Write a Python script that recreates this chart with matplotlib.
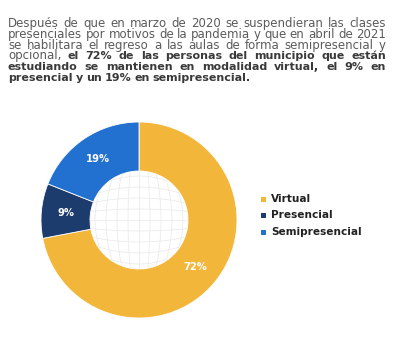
import numpy as np
import matplotlib
matplotlib.use("Agg")
import matplotlib.pyplot as plt
from matplotlib.patches import Circle

# ---- data ----
categories = ["Virtual", "Presencial", "Semipresencial"]
values = [72, 9, 19]
colors = ["#F2B63A", "#1D3C6E", "#2270D0"]

para_lines = [
    [("Después de que en marzo de 2020 se suspendieran las clases", False)],
    [("presenciales por motivos de la pandemia y que en abril de 2021", False)],
    [("se habilitara el regreso a las aulas de forma semipresencial y", False)],
    [("opcional,", False), ("el 72% de las personas del municipio que están", True)],
    [("estudiando se mantienen en modalidad virtual, el 9% en", True)],
    [("presencial y un 19% en semipresencial.", True)],
]

W, H = 393, 346
fig = plt.figure(figsize=(W / 100, H / 100), dpi=100)
fig.patch.set_facecolor("white")

FONT = "DejaVu Sans"
FS_REG = 8.5
FS_BOLD = 8.0
reg_col = "#5b5b5b"
bold_col = "#3a3a3a"

renderer = fig.canvas.get_renderer()

def px(x, y):
    return x / W, 1 - y / H

left, right = 8, 386
baselines = [27.3, 38.0, 48.7, 59.4, 70.1, 80.8]
for li, (segs, base) in enumerate(zip(para_lines, baselines)):
    words = []
    for text, bold in segs:
        for w in text.split(" "):
            words.append((w, bold))
    arts = []
    for w, bold in words:
        t = fig.text(0, 0, w, fontsize=FS_BOLD if bold else FS_REG, family=FONT,
                     fontweight="bold" if bold else "normal",
                     color=bold_col if bold else reg_col, va="baseline", ha="left")
        arts.append(t)
    widths = [a.get_window_extent(renderer).width for a in arts]
    total = sum(widths)
    n_gaps = len(words) - 1
    last = li == len(para_lines) - 1
    if last:
        sp = 3.0
    else:
        sp = (right - left - total) / n_gaps
    x = left
    for a, wd in zip(arts, widths):
        a.set_position(px(x, base))
        x += wd + sp

# ---- donut ----
cx, cy, r = 139, 220, 98
ax = fig.add_axes([(cx - r) / W, (H - cy - r) / H, 2 * r / W, 2 * r / H])
wedges, _ = ax.pie(values, colors=colors, startangle=90, counterclock=False,
                   radius=1.0, wedgeprops=dict(width=0.5, edgecolor="white", linewidth=0.6))
ax.set_xlim(-1, 1)
ax.set_ylim(-1, 1)
ax.set_aspect("equal")
ax.axis("off")

# faint globe grid in the hole
hole = Circle((0, 0), 0.5, transform=ax.transData, facecolor="none", edgecolor="none")
ax.add_patch(hole)
s = np.linspace(-1, 1, 100)
for g in np.linspace(-1, 1, 11):
    for xs, ys in [(g * np.sqrt(1 - s**2 / 2), s * np.sqrt(1 - g**2 / 2)),
                   (s * np.sqrt(1 - g**2 / 2), g * np.sqrt(1 - s**2 / 2))]:
        ln, = ax.plot(0.56 * xs, 0.56 * ys, color="#ebebeb", lw=0.6, zorder=0)
        ln.set_clip_path(hole)

# percentage labels
ang = 90.0
for v in values:
    span = v / 100 * 360
    mid = np.deg2rad(ang - span / 2)
    ax.text(0.75 * np.cos(mid), 0.75 * np.sin(mid), f"{v}%", color="white",
            fontsize=7.2, fontweight="bold", family=FONT, ha="center", va="center")
    ang -= span

# legend
leg_y = [199, 215.5, 232]
for cat, col, y in zip(categories, colors, leg_y):
    fig.patches.append(plt.Rectangle(px(261, y + 2.5), 5 / W, 5 / H,
                                     transform=fig.transFigure, facecolor=col,
                                     edgecolor="none"))
    fig.text(*px(271, y), cat, fontsize=7.6, fontweight="bold", family=FONT,
             color="#222222", va="center", ha="left")

fig.savefig("out.png", dpi=100, facecolor="white")
